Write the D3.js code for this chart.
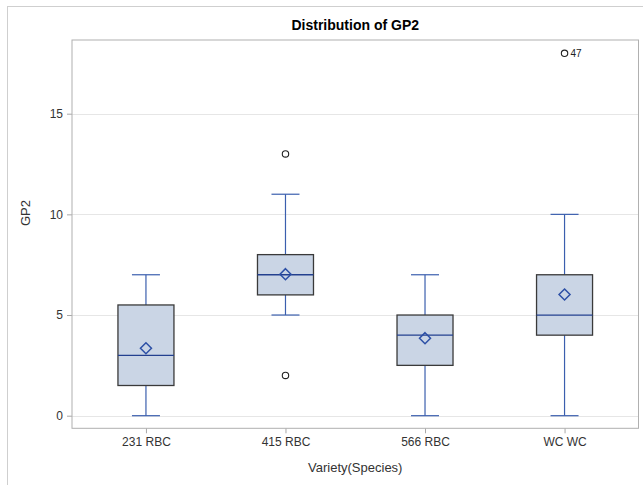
<!DOCTYPE html>
<html>
<head>
<meta charset="utf-8">
<script src="https://cdn.jsdelivr.net/npm/d3@7"></script>
<style>
  body { margin: 0; background: #fff; }
  text { font-family: "Liberation Sans", Arial, sans-serif; }
</style>
</head>
<body>
<div id="chart"></div>
<script>
const categories = ["231 RBC", "415 RBC", "566 RBC", "WC WC"];
const q1 = [1.5, 6, 2.5, 4];
const median = [3, 7, 4, 5];
const q3 = [5.5, 8, 5, 7];
const mean = [3.35, 7.03, 3.85, 6.02];
const whiskerLow = [0, 5, 0, 0];
const whiskerHigh = [7, 11, 7, 10];
const outliers = [
  { cat: "415 RBC", value: 13, label: "" },
  { cat: "415 RBC", value: 2, label: "" },
  { cat: "WC WC", value: 18, label: "47" }
];
const yTicks = [0, 5, 10, 15];

const width = 643, height = 485;
const plot = { left: 72, right: 638.5, top: 40, bottom: 428.3 };

const svg = d3.select("#chart").append("svg")
  .attr("width", width)
  .attr("height", height);

// outer frame
svg.append("rect")
  .attr("x", 7.5).attr("y", 6.5)
  .attr("width", width).attr("height", height)
  .attr("fill", "none")
  .attr("stroke", "#cfcfcf");

const x = d3.scalePoint()
  .domain(categories)
  .range([plot.left, plot.right])
  .padding(0.53);

const y = d3.scaleLinear()
  .domain([-0.626, 18.66])
  .range([plot.bottom, plot.top]);

// grid
svg.append("g")
  .selectAll("line")
  .data(yTicks)
  .join("line")
  .attr("x1", plot.left).attr("x2", plot.right)
  .attr("y1", d => Math.round(y(d)) + 0.5)
  .attr("y2", d => Math.round(y(d)) + 0.5)
  .attr("stroke", "#e6e6e6");

// axes
const yAxis = svg.append("g")
  .attr("transform", `translate(${plot.left},0)`)
  .call(d3.axisLeft(y).tickValues(yTicks).tickSize(5).tickPadding(4));
const xAxis = svg.append("g")
  .attr("transform", `translate(0,${plot.bottom})`)
  .call(d3.axisBottom(x).tickSize(5).tickPadding(4));

[yAxis, xAxis].forEach(ax => {
  ax.select(".domain").remove();
  ax.selectAll(".tick line").attr("stroke", "#a8a8a8");
  ax.selectAll(".tick text")
    .attr("fill", "#333")
    .style("font-size", "12px")
    .style("font-family", "'Liberation Sans', Arial, sans-serif");
});

// plot frame
svg.append("rect")
  .attr("x", plot.left).attr("y", plot.top)
  .attr("width", plot.right - plot.left)
  .attr("height", plot.bottom - plot.top)
  .attr("fill", "none")
  .attr("stroke", "#b0b0b0");

const boxW = 56, capW = 28;
const stats = categories.map((c, i) => ({
  cat: c, q1: q1[i], med: median[i], q3: q3[i], mean: mean[i],
  lo: whiskerLow[i], hi: whiskerHigh[i]
}));

const boxes = svg.append("g")
  .selectAll("g")
  .data(stats)
  .join("g")
  .attr("transform", d => `translate(${x(d.cat)},0)`);

const whiskerColor = "#3b5fae";

// whiskers
boxes.append("line")
  .attr("x1", 0).attr("x2", 0)
  .attr("y1", d => y(d.hi)).attr("y2", d => y(d.q3))
  .attr("stroke", whiskerColor).attr("stroke-width", 1.2);
boxes.append("line")
  .attr("x1", 0).attr("x2", 0)
  .attr("y1", d => y(d.q1)).attr("y2", d => y(d.lo))
  .attr("stroke", whiskerColor).attr("stroke-width", 1.2);
boxes.append("line")
  .attr("x1", -capW / 2).attr("x2", capW / 2)
  .attr("y1", d => y(d.hi)).attr("y2", d => y(d.hi))
  .attr("stroke", whiskerColor).attr("stroke-width", 1.2);
boxes.append("line")
  .attr("x1", -capW / 2).attr("x2", capW / 2)
  .attr("y1", d => y(d.lo)).attr("y2", d => y(d.lo))
  .attr("stroke", whiskerColor).attr("stroke-width", 1.2);

// box
boxes.append("rect")
  .attr("x", -boxW / 2)
  .attr("y", d => y(d.q3))
  .attr("width", boxW)
  .attr("height", d => y(d.q1) - y(d.q3))
  .attr("fill", "#cad5e5")
  .attr("stroke", "#3a3a3a")
  .attr("stroke-width", 1.3);

// median
boxes.append("line")
  .attr("x1", -boxW / 2).attr("x2", boxW / 2)
  .attr("y1", d => y(d.med)).attr("y2", d => y(d.med))
  .attr("stroke", "#23408f").attr("stroke-width", 1.3);

// mean diamond
boxes.append("path")
  .attr("d", "M0,-5.5L5.5,0L0,5.5L-5.5,0Z")
  .attr("transform", d => `translate(0,${y(d.mean)})`)
  .attr("fill", "none")
  .attr("stroke", "#2d50a6")
  .attr("stroke-width", 1.5);

// outliers
svg.append("g")
  .selectAll("circle")
  .data(outliers)
  .join("circle")
  .attr("cx", d => x(d.cat))
  .attr("cy", d => y(d.value))
  .attr("r", 3.2)
  .attr("fill", "none")
  .attr("stroke", "#222")
  .attr("stroke-width", 1.1);

svg.append("g")
  .selectAll("text")
  .data(outliers.filter(d => d.label))
  .join("text")
  .attr("x", d => x(d.cat) + 6)
  .attr("y", d => y(d.value) + 3.5)
  .attr("fill", "#222")
  .style("font-size", "10px")
  .text(d => d.label);

// titles
svg.append("text")
  .attr("x", (plot.left + plot.right) / 2)
  .attr("y", 29.5)
  .attr("text-anchor", "middle")
  .style("font-size", "14px")
  .style("font-weight", "bold")
  .attr("fill", "#000")
  .text("Distribution of GP2");

svg.append("text")
  .attr("x", (plot.left + plot.right) / 2)
  .attr("y", 472)
  .attr("text-anchor", "middle")
  .style("font-size", "13px")
  .attr("fill", "#333")
  .text("Variety(Species)");

svg.append("text")
  .attr("transform", "translate(30,213) rotate(-90)")
  .attr("text-anchor", "middle")
  .style("font-size", "13px")
  .attr("fill", "#333")
  .text("GP2");
</script>
</body>
</html>
